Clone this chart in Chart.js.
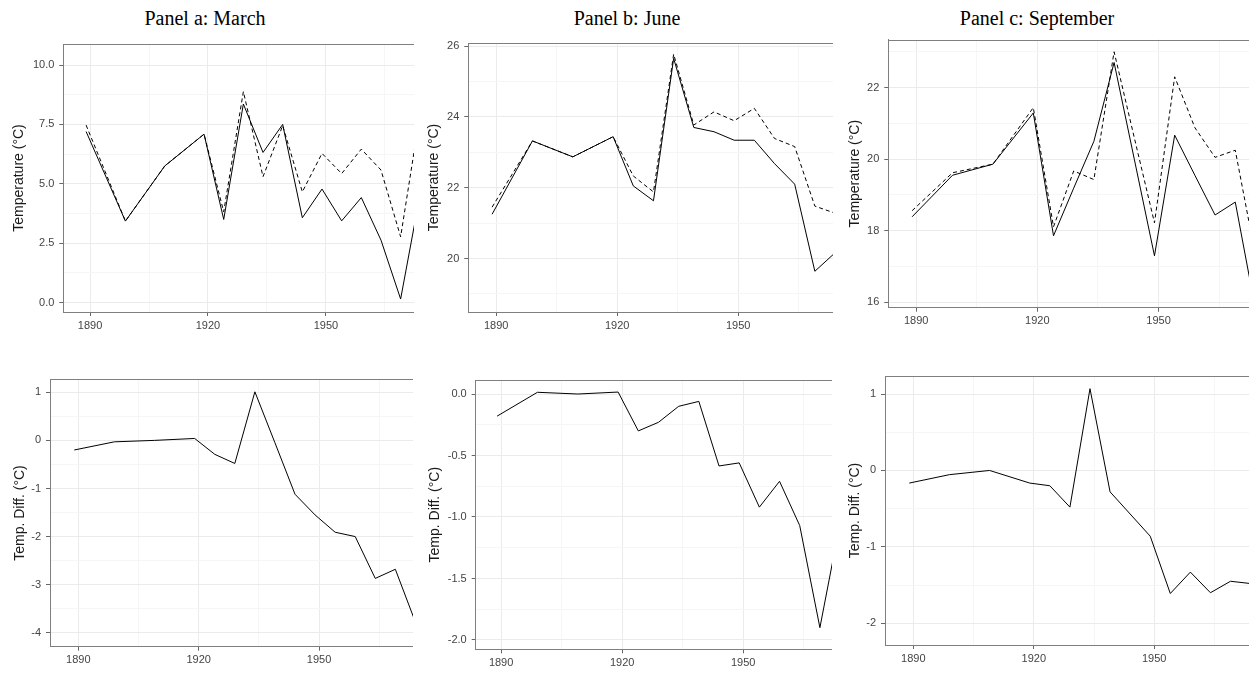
<!DOCTYPE html>
<html><head><meta charset="utf-8">
<script src="https://cdn.jsdelivr.net/npm/chart.js@4/dist/chart.umd.min.js"></script>
<style>
html,body{margin:0;padding:0;background:#fff;width:1249px;height:675px;overflow:hidden;}
.t{position:absolute;font-family:"Liberation Serif","Times New Roman",serif;font-size:20px;color:#000;transform:translateX(-50%);white-space:nowrap;line-height:20px;}
.c{position:absolute;}
</style></head><body>
<div class="t" style="left:205px;top:8px">Panel a: March</div>
<div class="t" style="left:627px;top:8px">Panel b: June</div>
<div class="t" style="left:1037px;top:8px">Panel c: September</div>
<script>
// ---- data ----
const years = [1889,1899,1909,1919,1924,1929,1934,1939,1944,1949,1954,1959,1964,1969,1974];

const marchSolid  = [7.20, 3.43, 5.75, 7.09, 3.50, 8.36, 6.32, 7.50, 3.57, 4.78, 3.44, 4.42, 2.63, 0.15, 4.60];
const marchDashed = [7.47, 3.43, 5.75, 7.09, 3.82, 8.88, 5.30, 7.45, 4.66, 6.28, 5.43, 6.46, 5.58, 2.77, 8.00];
const marchDiff   = [-0.20, -0.03, 0.00, 0.04, -0.29, -0.48, 1.01, -0.05, -1.12, -1.55, -1.91, -2.00, -2.87, -2.68, -3.78];

const juneSolid  = [21.25, 23.32, 22.87, 23.44, 22.05, 21.63, 25.65, 23.70, 23.58, 23.34, 23.34, 22.68, 22.10, 19.64, 20.16];
const juneDashed = [21.45, 23.32, 22.87, 23.44, 22.33, 21.88, 25.77, 23.77, 24.14, 23.89, 24.24, 23.39, 23.16, 21.48, 21.28];
const juneDiff   = [-0.18, 0.014, 0.00, 0.016, -0.30, -0.23, -0.10, -0.06, -0.585, -0.56, -0.92, -0.71, -1.07, -1.90, -1.05];

const septSolid  = [18.39, 19.55, 19.86, 21.29, 17.86, 19.19, 20.50, 22.70, 20.00, 17.30, 20.67, 19.55, 18.44, 18.80, 15.80];
const septDashed = [18.56, 19.62, 19.86, 21.44, 18.11, 19.67, 19.43, 23.00, 20.60, 18.22, 22.30, 20.88, 20.05, 20.25, 17.30];
const septDiff   = [-0.165, -0.055, 0.00, -0.165, -0.20, -0.48, 1.07, -0.28, -0.57, -0.86, -1.61, -1.33, -1.60, -1.45, -1.48];

const xTickLabels    = ['1890','1920','1950'];
const marchTempTicks = ['0.0','2.5','5.0','7.5','10.0'];
const juneTempTicks  = ['20','22','24','26'];
const septTempTicks  = ['16','18','20','22'];
const marchDiffTicks = ['-4','-3','-2','-1','0','1'];
const juneDiffTicks  = ['-2.0','-1.5','-1.0','-0.5','0.0'];
const septDiffTicks  = ['-2','-1','0','1'];

const tempTitle = 'Temperature (°C)';
const diffTitle = 'Temp. Diff. (°C)';

// ---- layout ----
const panels = [
  {left:11,  top:28,  width:403, plotL:63.3,  plotT:44,   plotB:312,   xMin:1883.2, xMax:1972.4, yMin:-0.396, yMax:10.885, ticks:marchTempTicks, title:tempTitle, series:[[marchSolid,false],[marchDashed,true]]},
  {left:426, top:28,  width:407, plotL:468.3, plotT:43,   plotB:312,   xMin:1883.1, xMax:1973.5, yMin:18.49,  yMax:26.085, ticks:juneTempTicks,  title:tempTitle, series:[[juneSolid,false],[juneDashed,true]]},
  {left:847, top:28,  width:402, plotL:888.3, plotT:39.3, plotB:307.7, xMin:1883.1, xMax:1972.4, yMin:15.85,  yMax:23.34,  ticks:septTempTicks,  title:tempTitle, series:[[septSolid,false],[septDashed,true]]},
  {left:12,  top:360, width:401, plotL:50,    plotT:379.3,plotB:646.7, xMin:1882.95,xMax:1973.4, yMin:-4.29,  yMax:1.27,   ticks:marchDiffTicks, title:diffTitle, series:[[marchDiff,false]]},
  {left:427, top:360, width:405, plotL:475.7, plotT:380,  plotB:649.3, xMin:1883.7, xMax:1972.0, yMin:-2.076, yMax:0.114,  ticks:juneDiffTicks,  title:diffTitle, series:[[juneDiff,false]]},
  {left:847, top:360, width:402, plotL:885,   plotT:376,  plotB:645,   xMin:1882.95,xMax:1973.6, yMin:-2.284, yMax:1.236,  ticks:septDiffTicks,  title:diffTitle, series:[[septDiff,false]]}
];

const MAJOR = '#ebebeb', MINOR = '#f6f6f6', BORDER = '#7f7f7f', TICKC = '#666666';
const tickFont = {family:'"Liberation Sans", Arial, sans-serif', size:11};

function buildTickList(labels, min, max) {
  const vals = labels.map(parseFloat);
  const step = vals[1] - vals[0];
  const list = [];
  for (let i = -1; i < vals.length; i++) {
    if (i >= 0) list.push({value: vals[i], isMajor: true, lbl: labels[i]});
    const base = i >= 0 ? vals[i] : vals[0] - step;
    const m = base + step / 2;
    if (m >= min && m <= max) list.push({value: m, isMajor: false, lbl: ''});
  }
  return list.filter(t => t.value >= min - 1e-9 && t.value <= max + 1e-9).sort((a,b)=>a.value-b.value);
}

const topBorder = {
  id: 'topBorder',
  afterDraw(chart) {
    const {ctx, chartArea} = chart;
    ctx.save();
    ctx.strokeStyle = BORDER;
    ctx.lineWidth = 1;
    const y = Math.round(chartArea.top) + 0.5;
    ctx.beginPath();
    ctx.moveTo(chartArea.left, y);
    ctx.lineTo(chartArea.right, y);
    ctx.stroke();
    ctx.restore();
  }
};

panels.forEach(p => {
  const H = Math.round(p.plotB - p.top + 24);
  const xH = H - (p.plotB - p.top);
  const yW = p.plotL - p.left;
  const div = document.createElement('div');
  div.className = 'c';
  div.style.left = p.left + 'px';
  div.style.top = p.top + 'px';
  div.style.width = p.width + 'px';
  div.style.height = H + 'px';
  const cv = document.createElement('canvas');
  div.appendChild(cv);
  document.body.appendChild(div);

  const xTicks = buildTickList(xTickLabels, p.xMin, p.xMax);
  const yTicks = buildTickList(p.ticks, p.yMin, p.yMax);

  const gridOpts = {
    color: c => (c.tick && c.tick.isMajor) ? MAJOR : MINOR,
    tickColor: c => (c.tick && c.tick.isMajor) ? TICKC : 'rgba(0,0,0,0)',
    tickLength: 4,
    lineWidth: 1
  };

  new Chart(cv, {
    type: 'line',
    data: {
      datasets: p.series.map(([vals, dashed]) => ({
        data: years.map((yr, i) => ({x: yr, y: vals[i]})),
        borderColor: '#000',
        borderWidth: 1,
        borderDash: dashed ? [4, 3] : [],
        pointRadius: 0,
        tension: 0,
        fill: false
      }))
    },
    options: {
      responsive: true,
      maintainAspectRatio: false,
      animation: false,
      events: [],
      layout: {padding: {top: p.plotT - p.top, left: 0, right: 0, bottom: 0}},
      plugins: {legend: {display: false}, tooltip: {enabled: false}},
      scales: {
        x: {
          type: 'linear', min: p.xMin, max: p.xMax,
          afterBuildTicks: s => { s.ticks = xTicks.map(t => Object.assign({}, t)); },
          afterFit: s => { s.height = xH; },
          ticks: {autoSkip: false, maxRotation: 0, padding: 3, color: '#444', font: tickFont,
                  callback: (v, i, ts) => ts[i].lbl},
          grid: gridOpts,
          border: {display: true, color: BORDER, width: 1}
        },
        y: {
          type: 'linear', min: p.yMin, max: p.yMax,
          afterBuildTicks: s => { s.ticks = yTicks.map(t => Object.assign({}, t)); },
          afterFit: s => { s.width = yW; },
          ticks: {autoSkip: false, padding: 5, color: '#444', font: tickFont,
                  callback: (v, i, ts) => ts[i].lbl},
          grid: gridOpts,
          border: {display: true, color: BORDER, width: 1},
          title: {display: true, text: p.title, color: '#1a1a1a', padding: {top: 0, bottom: 0},
                  font: {family: '"Liberation Sans", Arial, sans-serif', size: 14}}
        }
      }
    },
    plugins: [topBorder]
  });
});
</script>
</body></html>
